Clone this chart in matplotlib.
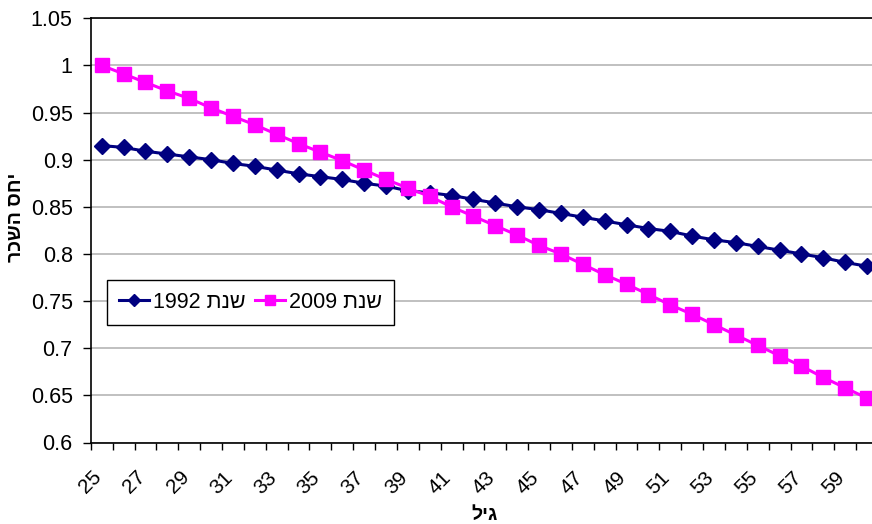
import numpy as np
import matplotlib
matplotlib.use("Agg")
import matplotlib.pyplot as plt
from matplotlib.ticker import FixedLocator

plt.rcParams['font.family'] = ['Liberation Sans', 'DejaVu Sans']

# גילאים 25..60
ages = list(range(25, 61))
ratio_1992 = [0.915, 0.913, 0.909, 0.906, 0.903, 0.900, 0.896, 0.893, 0.889,
              0.885, 0.882, 0.879, 0.875, 0.872, 0.867,
              0.865, 0.862, 0.858, 0.854, 0.850, 0.847, 0.843, 0.839, 0.835,
              0.831, 0.827, 0.824, 0.819, 0.815, 0.812, 0.808, 0.804, 0.800,
              0.796, 0.791, 0.787]
ratio_2009 = [1.000, 0.991, 0.982, 0.973, 0.965, 0.955, 0.946, 0.937, 0.927,
              0.917, 0.908, 0.899, 0.889, 0.879, 0.870,
              0.861, 0.850, 0.840, 0.830, 0.820, 0.809, 0.800, 0.789, 0.778,
              0.768, 0.757, 0.746, 0.736, 0.725, 0.714, 0.703, 0.692, 0.681,
              0.669, 0.658, 0.647]
label_ages = ages[::2]  # 25, 27, ..., 59
y_ticks = [0.6, 0.65, 0.7, 0.75, 0.8, 0.85, 0.9, 0.95, 1.0, 1.05]
y_ticklabels = ['0.6', '0.65', '0.7', '0.75', '0.8', '0.85', '0.9', '0.95', '1', '1.05']

# טקסט עברי בסדר חזותי (matplotlib לא הופך RTL)
lbl_1992 = '1992 ' + 'שנת'[::-1]
lbl_2009 = '2009 ' + 'שנת'[::-1]
ylab = 'יחס השכר'[::-1]
xlab = 'גיל'[::-1]

fig = plt.figure(figsize=(8.72, 5.24), dpi=100)
ax = fig.add_axes([90.8 / 872, (524 - 442.5) / 524, (878 - 90.8) / 872, (442.5 - 18.3) / 524])

ax.plot(ages, ratio_1992, '-D', color='#000080', linewidth=2.2, markersize=8,
        label=lbl_1992, clip_on=False, zorder=3)
ax.plot(ages, ratio_2009, '-s', color='#FF00FF', linewidth=2.2, markersize=9.5,
        label=lbl_2009, clip_on=False, zorder=3)

ax.set_xlim(24.5, 60.5)
ax.set_ylim(0.6, 1.05)
ax.set_yticks(y_ticks)
ax.set_yticklabels(y_ticklabels)

# קווי גבול בין קטגוריות; התוויות מוזזות מעט שמאלה כמו באקסל
ax.xaxis.set_major_locator(FixedLocator(np.arange(24.5, 61, 1)))
ax.xaxis.set_major_formatter(plt.NullFormatter())
ax.xaxis.set_minor_locator(FixedLocator([a - 0.45 for a in label_ages]))
ax.set_xticklabels([str(a) for a in label_ages], minor=True, rotation=45,
                   ha='right', va='top', rotation_mode='anchor', fontsize=15)
ax.tick_params(axis='x', which='major', direction='out', length=5, width=1, color='black')
ax.tick_params(axis='x', which='minor', length=0, pad=18)
ax.tick_params(axis='y', direction='out', length=6, width=1, labelsize=15.5, pad=7)

ax.grid(axis='y', color='#C0C0C0', linewidth=1.4)
ax.set_axisbelow(True)
for s in ['left', 'bottom', 'top']:
    ax.spines[s].set_color('black')
    ax.spines[s].set_linewidth(1.2)
ax.spines['right'].set_visible(False)

ax.set_ylabel(ylab, fontsize=14, fontweight='bold')
ax.yaxis.set_label_coords(-0.083, 0.53)
ax.set_xlabel(xlab, fontsize=14, fontweight='bold', va='top')
ax.xaxis.set_label_coords(0.5, -0.152)

leg = ax.legend(loc='upper left', bbox_to_anchor=((107 - 90.8) / 787.2, (442.5 - 280) / 424.2),
                ncol=2, fontsize=15.5, frameon=True, fancybox=False, framealpha=1,
                edgecolor='black', handlelength=1.4, handletextpad=0.2, columnspacing=0.4,
                borderpad=0.55, borderaxespad=0, markerscale=0.8)
leg.get_frame().set_linewidth(1.0)

fig.savefig('out.png', dpi=100)
